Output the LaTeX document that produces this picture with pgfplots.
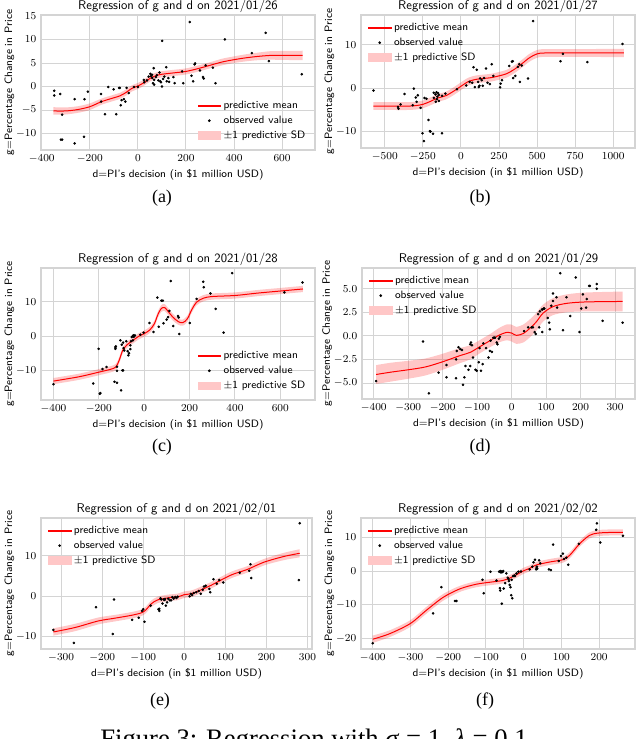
\documentclass[border=0pt]{standalone}
\usepackage{fontspec}
\usepackage{pgfplots}
\usepackage{pgfplotstable}
\pgfplotsset{compat=1.18}
\usepgfplotslibrary{fillbetween}
\newfontfamily\timesfont{Liberation Serif}

% ---------------- data ----------------
\pgfplotstableread{
x y
-348 -0.9
-348 -1.9
-323 -1.6
-315 -6.0
-320 -11.3
-315 -11.3
-263 -2.7
-263 -12.1
-222 -2.7
-224 -10.7
-208 -1.1
-153 -1.6
-153 -3.2
-137 -5.9
-123 -0.1
-101 -0.6
-90 -5.9
-78 -0.3
-75 -0.3
-68 -2.9
-71 -4.0
-58 -2.7
-52 -3.2
-47 -0.3
-38 -1.4
-16 -0.1
0 -0.1
25 1.4
27 0.9
38 1.3
45 2.1
52 2.7
55 2.2
59 2.5
60 1.8
63 0.7
66 3.9
68 1.4
68 0.4
75 2.0
79 2.4
85 1.3
90 3.0
93 1.1
96 0.9
100 0.0
101 9.7
105 1.6
110 2.1
118 4.1
120 1.1
127 1.8
130 1.0
148 2.0
153 0.7
189 0.7
184 3.2
216 13.7
223 2.3
230 1.1
236 4.7
238 4.9
258 3.4
271 2.0
274 1.7
282 4.5
312 4.0
323 0.7
362 10.0
474 7.1
532 11.4
545 5.4
682 2.6
}\ptsA
\pgfplotstableread{
x m s
-351 -5.2 0.8
-300 -5.2 0.75
-250 -4.9 0.7
-200 -4.3 0.7
-150 -3.2 0.65
-100 -2.4 0.65
-75 -2.0 0.65
-50 -1.3 0.65
-25 -0.4 0.65
0 0.1 0.65
25 0.8 0.65
50 1.7 0.65
75 2.3 0.65
100 2.6 0.65
150 2.9 0.65
200 3.2 0.65
250 3.8 0.65
300 4.5 0.65
350 5.2 0.7
400 5.7 0.7
450 6.1 0.75
500 6.4 0.8
550 6.6 0.9
600 6.6 0.95
685 6.6 1.0
}\meanA

\pgfplotstableread{
x y
-574 -0.6
-413 -4.4
-410 -4.8
-396 -3.8
-370 -1.4
-317 -4.0
-309 -0.15
-296 -2.2
-291 -3.2
-283 -1.7
-265 -4.6
-252 -10.5
-243 -12.3
-239 -2.3
-226 -2.5
-213 -7.4
-204 -10.0
-200 -10.1
-183 -10.6
-178 -1.1
-178 -2.3
-167 -1.5
-165 -3.2
-160 -1.0
-158 -2.6
-155 -2.0
-150 -1.2
-145 -1.6
-145 -3.0
-124 -1.8
-124 -10.5
-102 -1.3
-26 -0.3
35 0.6
57 1.4
74 1.2
83 4.8
91 0.2
104 4.2
113 1.4
117 0.2
122 0.5
126 2.2
137 1.8
143 0.5
152 2.3
165 4.5
175 1.2
190 0.9
202 5.5
213 2.8
257 0.15
261 1.0
270 1.8
317 5.1
335 6.1
340 6.2
343 2.3
357 2.8
374 4.9
383 5.5
387 1.4
400 5.2
441 2.2
474 15.5
654 6.2
670 7.9
830 6.0
1061 10.2
}\ptsB
\pgfplotstableread{
x m s
-574 -4.2 0.9
-450 -4.2 0.9
-350 -4.2 0.9
-300 -4.1 0.9
-250 -3.8 0.9
-200 -3.1 0.9
-150 -2.3 0.9
-100 -1.8 0.9
-50 -0.8 0.9
0 0.4 0.9
50 1.5 0.9
100 2.0 0.9
150 2.2 0.9
200 2.4 0.9
250 2.8 0.9
300 3.3 0.9
350 4.3 0.9
400 5.6 0.9
450 7.0 0.9
500 7.9 0.9
550 8.1 0.9
700 8.1 0.9
1070 8.1 0.95
}\meanB

\pgfplotstableread{
x y
-400 -14.0
-225 -13.8
-201 -3.7
-196 -16.8
-193 -16.6
-184 -9.6
-166 -9.0
-131 -13.3
-127 -3.2
-127 -3.7
-125 -3.0
-120 -13.6
-120 -8.9
-120 -10.1
-105 -1.25
-102 -15.8
-99 -2.5
-96 -10.0
-93 -10.0
-93 -1.9
-91 -3.5
-88 -4.2
-79 -1.5
-73 -4.4
-70 -5.6
-67 -5.0
-61 -2.7
-61 -3.8
-58 -1.5
-55 -0.3
-50 0.0
-50 -1.25
-48 0.2
-46 -0.2
-44 0.0
-41 0.2
-17 0.4
-3 1.0
23 3.8
41 1.2
58 11.2
64 2.7
76 10.3
82 10.3
85 3.7
99 4.8
105 5.5
111 7.3
117 16.0
128 2.9
149 5.8
152 5.4
155 0.6
201 3.8
231 10.8
260 15.8
263 14.2
292 12.4
315 7.9
350 1.0
388 18.3
618 12.7
698 15.6
}\ptsC
\pgfplotstableread{
x m s
-400 -13.1 0.9
-300 -12.0 0.9
-250 -11.3 0.9
-200 -10.5 0.9
-150 -9.7 0.9
-125 -9.0 0.9
-110 -7.0 0.9
-95 -4.2 0.9
-75 -2.5 0.9
-50 -1.3 0.9
-25 -0.1 0.9
0 0.7 0.9
25 1.8 0.9
45 3.6 0.9
60 6.2 0.9
75 8.0 1.0
90 8.3 1.0
105 7.2 1.0
125 5.6 1.0
150 4.2 0.9
170 3.9 0.9
190 5.0 0.9
210 7.7 0.9
230 9.8 0.9
260 11.0 0.9
300 11.5 0.9
400 11.8 0.9
500 12.5 0.9
600 13.1 0.9
700 13.7 0.9
}\meanC

\pgfplotstableread{
x y
-393 -4.8
-257 -0.6
-240 -6.1
-212 -3.9
-189 -4.4
-189 -3.1
-161 -2.5
-161 -4.5
-159 -1.6
-154 -1.2
-149 -1.4
-144 -1.5
-141 -5.2
-137 -4.4
-134 -3.2
-125 -3.6
-120 -0.9
-118 -0.7
-115 -1.0
-120 -3.2
-112 -2.3
-105 -3.6
-101 -3.7
-95 -2.8
-93 -1.3
-89 -3.7
-82 -0.8
-84 -3.0
-74 -1.3
-67 -2.3
-63 -1.6
-61 -0.5
-57 -1.7
-53 -0.2
-50 -0.2
-48 -0.2
-43 -0.7
-41 -0.9
-37 -0.3
-34 -0.1
36 0.5
48 0.9
58 0.9
62 0.9
67 0.4
70 0.2
77 2.3
80 0.9
82 2.6
88 2.8
90 2.8
93 2.9
95 2.9
89 0.4
105 1.9
111 0.7
109 1.4
115 3.2
120 3.7
120 4.5
130 4.1
132 3.0
141 6.65
149 0.6
159 4.1
170 2.1
186 6.2
197 0.4
202 2.9
207 4.4
216 3.0
218 3.9
225 5.3
227 5.3
247 5.5
247 5.0
264 1.6
322 1.4
}\ptsD
\pgfplotstableread{
x m s
-393 -4.1 1.0
-350 -3.85 1.0
-300 -3.6 0.95
-250 -3.3 0.9
-200 -2.75 0.85
-150 -2.1 0.8
-120 -1.75 0.75
-90 -1.1 0.7
-60 -0.45 0.7
-40 0.0 0.75
-25 0.25 0.8
-12 0.38 0.85
0 0.3 0.9
14 0.05 0.9
34 0.25 0.95
53 0.8 0.95
72 1.5 0.95
91 2.4 0.9
120 3.1 0.9
160 3.45 0.95
216 3.6 1.0
322 3.65 1.05
}\meanD

\pgfplotstableread{
x y
-319 -8.3
-269 -11.5
-215 -2.7
-174 -9.3
-171 -0.8
-127 -5.8
-111 -5.3
-103 -3.6
-100 -3.2
-97 -6.3
-82 -2.3
-63 -3.2
-61 -3.6
-61 -3.1
-58 -0.5
-56 -0.8
-53 -1.8
-50 -0.8
-48 -0.9
-47 -0.7
-45 -2.3
-42 -1.5
-39 -0.6
-35 -1.0
-32 -1.0
-29 -0.2
-26 -0.6
-22 -0.2
-19 -0.4
-16 -0.1
13 0.0
16 0.6
19 0.3
23 0.8
29 1.0
35 1.3
40 0.6
45 1.6
48 2.4
52 2.6
61 1.8
63 1.0
71 4.2
79 3.1
85 4.0
95 3.4
135 5.8
158 6.3
161 7.9
163 4.5
279 4.0
281 18.0
}\ptsE
\pgfplotstableread{
x m s
-319 -8.8 0.9
-266 -7.7 0.9
-210 -6.1 0.85
-169 -5.4 0.8
-129 -4.7 0.8
-105 -4.1 0.8
-93 -3.3 0.8
-81 -1.9 0.8
-65 -0.9 0.8
-40 -0.4 0.8
-16 -0.15 0.8
0 0.4 0.8
16 0.6 0.8
32 1.2 0.8
65 2.7 0.8
113 5.2 0.8
153 6.6 0.8
194 8.4 0.8
242 9.8 0.9
281 10.6 1.0
}\meanE

\pgfplotstableread{
x y
-400 -21.5
-240 -12.6
-218 -4.8
-182 -8.9
-178 -8.9
-109 -2.6
-106 -6.6
-88 -0.2
-72 -2.8
-65 -0.2
-62 0.0
-60 -0.4
-58 -0.1
-56 -0.3
-54 0.0
-63 -5.1
-62 -5.8
-58 -9.7
-53 -5.2
-49 -3.6
-46 -0.7
-42 -2.0
-40 -2.4
-39 -3.0
-37 -4.1
-35 -4.8
-33 -7.2
-32 -2.6
-30 -8.1
-28 -1.5
-25 -1.3
-23 -1.5
-19 -0.7
-14 -0.2
-7 -0.1
16 0.5
23 1.3
26 2.6
30 3.4
33 0.5
34 0.9
35 1.3
36 0.7
41 3.2
44 2.3
67 0.5
72 0.3
78 7.9
93 3.0
99 4.5
104 5.2
107 3.6
113 4.0
118 1.9
146 8.1
192 12.3
194 14.2
203 8.5
263 10.5
}\ptsF
\pgfplotstableread{
x m s
-400 -20.3 1.1
-354 -18.6 1.0
-300 -15.6 1.0
-257 -11.6 1.0
-213 -7.8 1.0
-169 -5.3 0.9
-125 -3.9 0.9
-81 -3.2 0.9
-55 -2.8 0.9
-37 -2.1 0.9
-19 -1.1 0.9
0 0.1 0.9
16 0.8 0.9
33 1.8 0.9
69 2.7 0.9
104 3.4 0.9
122 4.7 0.9
148 8.1 0.9
174 10.6 0.9
196 11.3 0.9
230 11.5 0.9
263 11.5 0.9
}\meanF

% ---------------- style ----------------
\definecolor{gridc}{HTML}{D4D4D4}
\definecolor{meanred}{HTML}{FF0000}
\definecolor{legred}{HTML}{FE0202}
\definecolor{bandpink}{HTML}{FFC7C7}
\pgfplotsset{
  reg/.style={
    scale only axis,
    anchor=south west,
    axis line style={draw=gridc, line width=0.8pt},
    grid=major,
    major grid style={draw=gridc, line width=0.7pt},
    major tick length=0pt,
    tick label style={font=\fontsize{8}{9}\selectfont},
    /pgf/number format/1000 sep={},
    xlabel={d=PI's decision (in \$1 million USD)},
    ylabel={g=Percentage Change in Price},
    label style={font=\sffamily\fontsize{8}{9}\selectfont},
    xlabel style={yshift=2pt},
    ylabel style={yshift=-5.5pt},
    title style={font=\sffamily\fontsize{9.5}{11}\selectfont, yshift=-7.5pt},
    legend style={draw=none, fill=none, font=\sffamily\fontsize{8}{9}\selectfont, row sep=0pt, inner sep=1pt},
    legend cell align=left,
  },
  legLR/.style={legend style={at={(0.98,0.04)}, anchor=south east}},
  legUL/.style={legend style={at={(0.02,0.97)}, anchor=north west}},
}

\newcommand{\regbody}[3]{%
  \addlegendimage{legend image code/.code={\fill[legred] (0cm,-0.4pt) rectangle (0.6cm,0.4pt);}}
  \addlegendentry{predictive mean}
  \addlegendimage{only marks, mark=*, mark size=0.8pt, black}\addlegendentry{observed value}
  \addlegendimage{area legend, fill=bandpink, draw=bandpink}\addlegendentry{$\pm$1 predictive SD}
  \addplot[name path=U#3, draw=none, smooth, forget plot] table[x=x, y expr=\thisrow{m}+\thisrow{s}]{#2};
  \addplot[name path=L#3, draw=none, smooth, forget plot] table[x=x, y expr=\thisrow{m}-\thisrow{s}]{#2};
  \addplot[fill=red, fill opacity=0.22, draw=none, forget plot] fill between[of=U#3 and L#3];
  \addplot[meanred, line width=0.75pt, smooth, forget plot] table[x=x, y=m]{#2};
  \addplot[only marks, mark=*, mark size=0.75pt, black, forget plot] table[x=x, y=y]{#1};
}

\begin{document}
\begin{tikzpicture}

% (a)
\begin{axis}[reg, legLR, at={(30.75pt,441.75pt)}, width=205.5pt, height=101.25pt,
  title={Regression of g and d on 2021/01/26},
  xmin=-403, xmax=737, ymin=-13.5, ymax=15.2,
  xtick={-400,-200,0,200,400,600}, ytick={-10,-5,0,5,10,15}]
\regbody{\ptsA}{\meanA}{a}
\end{axis}

% (b)
\begin{axis}[reg, legUL, at={(270.75pt,443.25pt)}, width=205.5pt, height=99.75pt,
  title={Regression of g and d on 2021/01/27},
  xmin=-656, xmax=1143, ymin=-13.9, ymax=16.9,
  xtick={-500,-250,0,250,500,750,1000}, ytick={-10,0,10}]
\regbody{\ptsB}{\meanB}{b}
\end{axis}

% (c)
\begin{axis}[reg, legLR, at={(30.75pt,254.25pt)}, width=205.5pt, height=99pt,
  title={Regression of g and d on 2021/01/28},
  xmin=-455, xmax=753, ymin=-18.6, ymax=19.8,
  xtick={-400,-200,0,200,400,600}, ytick={-10,0,10}]
\regbody{\ptsC}{\meanC}{c}
\end{axis}

% (d)
\begin{axis}[reg, legUL, at={(271.5pt,255pt)}, width=204.75pt, height=98.25pt,
  title={Regression of g and d on 2021/01/29},
  xmin=-434, xmax=358, ymin=-6.7, ymax=7.2,
  xtick={-400,-300,-200,-100,0,100,200,300}, ytick={-5,-2.5,0,2.5,5},
  yticklabel style={/pgf/number format/.cd, fixed, fixed zerofill, precision=1}]
\regbody{\ptsD}{\meanD}{d}
\end{axis}

% (e)
\begin{axis}[reg, legUL, at={(30.75pt,67.5pt)}, width=203.25pt, height=98.25pt,
  title={Regression of g and d on 2021/02/01},
  xmin=-349, xmax=311, ymin=-13.0, ymax=19.3,
  xtick={-300,-200,-100,0,100,200,300}, ytick={-10,0,10}]
\regbody{\ptsE}{\meanE}{e}
\end{axis}

% (f)
\begin{axis}[reg, legUL, at={(270.75pt,67.5pt)}, width=205.5pt, height=98.25pt,
  title={Regression of g and d on 2021/02/02},
  xmin=-431, xmax=295, ymin=-23.2, ymax=15.8,
  xtick={-400,-300,-200,-100,0,100,200}, ytick={-20,-10,0,10}]
\regbody{\ptsF}{\meanF}{f}
\end{axis}

% sub-captions
\begin{scope}[every node/.style={font=\timesfont\fontsize{13.5}{15}\selectfont, inner sep=0pt}]
\node at (121.5pt,405.75pt) {(a)};
\node at (360pt,405.75pt) {(b)};
\node at (121.5pt,219pt) {(c)};
\node at (360pt,219pt) {(d)};
\node at (120pt,28.5pt) {(e)};
\node at (363.75pt,28.5pt) {(f)};
\end{scope}
\node[font=\timesfont\fontsize{20}{22}\selectfont, inner sep=0pt, anchor=base west] at (75pt,-6pt) {Figure 3: Regression with \textit{σ} = 1, \textit{λ} = 0.1};
\pgfresetboundingbox
\useasboundingbox (0,0) rectangle (480pt,554.25pt);
\end{tikzpicture}
\end{document}
